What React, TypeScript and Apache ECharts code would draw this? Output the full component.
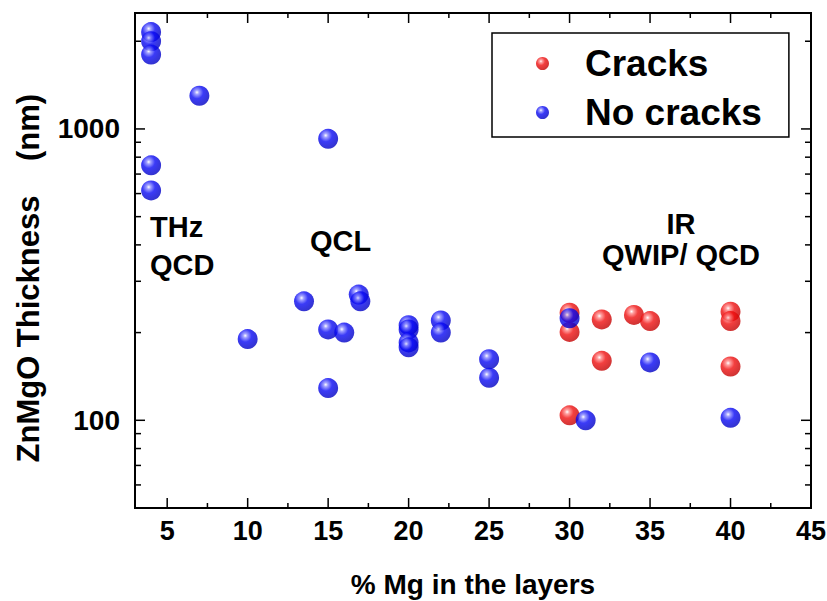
import React, { useEffect, useRef } from "react";
import * as echarts from "echarts";

// ---- data ----
const crackX = [30, 30, 30, 32, 32, 34, 35, 40, 40, 40];
const crackY = [234, 201, 104, 222, 160, 230, 219, 236, 219, 153];

const noCrackX = [4, 4, 4, 7, 4, 4, 10, 13.5, 15, 15, 16, 15, 16.9, 17, 20, 20, 20, 20, 22, 22, 25, 25, 30, 31, 35, 40];
const noCrackY = [2150, 2000, 1800, 1300, 750, 615, 190, 256, 925, 205, 200, 129, 270, 256, 212, 205, 185, 178, 220, 200, 162, 140, 224, 100, 158, 102];

const xTickLabels = [5, 10, 15, 20, 25, 30, 35, 40, 45];
const xMinorTicks = [7.5, 12.5, 17.5, 22.5, 27.5, 32.5, 37.5, 42.5];
const yMajorTicks = [100, 1000];
const yMinorTicks = [60, 70, 80, 90, 200, 300, 400, 500, 600, 700, 800, 900, 2000];

const X_MIN = 3;
const X_MAX = 45;
const Y_MIN = 50;
const Y_MAX = 2500;

const FONT = "'Liberation Sans', Arial, Helvetica, sans-serif";

const sphere = (light: string, mid: string, dark: string) => ({
  type: "radial",
  x: 0.38,
  y: 0.33,
  r: 0.7,
  colorStops: [
    { offset: 0, color: "#ffffff" },
    { offset: 0.15, color: light },
    { offset: 0.45, color: mid },
    { offset: 1, color: dark },
  ],
});

function tickSeries(values: number[], axis: "x" | "y", len: number) {
  return {
    type: "custom",
    silent: true,
    clip: false,
    z: 5,
    data: values.map((v) => (axis === "x" ? [v, Y_MIN] : [X_MIN, v])),
    encode: { x: 0, y: 1 },
    renderItem: (params: any, api: any) => {
      const stroke = { stroke: "#000", lineWidth: 1.5 };
      if (axis === "x") {
        const v = api.value(0);
        const b = api.coord([v, Y_MIN]);
        const t = api.coord([v, Y_MAX]);
        return {
          type: "group",
          children: [
            { type: "line", shape: { x1: b[0], y1: b[1], x2: b[0], y2: b[1] - len }, style: stroke },
            { type: "line", shape: { x1: t[0], y1: t[1], x2: t[0], y2: t[1] + len }, style: stroke },
          ],
        };
      }
      const v = api.value(1);
      const l = api.coord([X_MIN, v]);
      const r = api.coord([X_MAX, v]);
      return {
        type: "group",
        children: [
          { type: "line", shape: { x1: l[0], y1: l[1], x2: l[0] + len, y2: l[1] }, style: stroke },
          { type: "line", shape: { x1: r[0], y1: r[1], x2: r[0] - len, y2: r[1] }, style: stroke },
        ],
      };
    },
  };
}

export default function App() {
  const ref = useRef<HTMLDivElement>(null);

  useEffect(() => {
    if (!ref.current) return;
    const chart = echarts.init(ref.current, null, { renderer: "svg" });
    const labelStyle = { fontSize: 27, fontWeight: "bold", color: "#000", fontFamily: FONT };
    chart.setOption({
      animation: false,
      backgroundColor: "#fff",
      grid: {
        left: 135,
        top: 13,
        right: 16,
        bottom: 93,
        containLabel: false,
        outerBoundsMode: "none",
        show: true,
        borderColor: "#000",
        borderWidth: 2,
        backgroundColor: "transparent",
      },
      legend: {
        data: ["Cracks", "No cracks"],
        orient: "vertical",
        left: 492,
        top: 33,
        padding: [12, 27, 6, 44],
        itemGap: 12,
        itemWidth: 13,
        itemHeight: 13,
        borderColor: "#000",
        borderWidth: 1.5,
        backgroundColor: "#fff",
        textStyle: { fontSize: 37, fontWeight: "bold", color: "#000", fontFamily: FONT, padding: [0, 0, 0, 31] },
      },
      xAxis: {
        type: "value",
        min: X_MIN,
        max: X_MAX,
        axisLine: { show: false },
        axisTick: { show: false },
        splitLine: { show: false },
        axisLabel: { ...labelStyle, margin: 9, customValues: xTickLabels },
        name: "% Mg in the layers",
        nameLocation: "middle",
        nameGap: 62,
        nameTextStyle: { fontSize: 28, fontWeight: "bold", color: "#000", fontFamily: FONT },
      },
      yAxis: {
        type: "log",
        logBase: 10,
        min: Y_MIN,
        max: Y_MAX,
        axisLine: { show: false },
        axisTick: { show: false },
        splitLine: { show: false },
        minorTick: { show: false },
        minorSplitLine: { show: false },
        axisLabel: {
          ...labelStyle,
          fontSize: 28,
          margin: 15,
          showMinLabel: false,
          showMaxLabel: false,
          formatter: (v: number) => String(Math.round(v)),
        },
      },
      graphic: [
        { type: "text", x: 28, y: 329, rotation: Math.PI / 2, style: { text: "ZnMgO Thickness", font: `bold 31px ${FONT}`, fill: "#000", align: "center", verticalAlign: "middle" } },
        { type: "text", x: 28, y: 127.5, rotation: Math.PI / 2, style: { text: "(nm)", font: `bold 31px ${FONT}`, fill: "#000", align: "center", verticalAlign: "middle" } },
        { type: "text", x: 150, y: 226.5, style: { text: "THz", font: `bold 29px ${FONT}`, fill: "#000", align: "left", verticalAlign: "middle" } },
        { type: "text", x: 150, y: 265, style: { text: "QCD", font: `bold 29px ${FONT}`, fill: "#000", align: "left", verticalAlign: "middle" } },
        { type: "text", x: 310, y: 241, style: { text: "QCL", font: `bold 29px ${FONT}`, fill: "#000", align: "left", verticalAlign: "middle" } },
        { type: "text", x: 681, y: 223.5, style: { text: "IR", font: `bold 29px ${FONT}`, fill: "#000", align: "center", verticalAlign: "middle" } },
        { type: "text", x: 681, y: 255, style: { text: "QWIP/ QCD", font: `bold 29px ${FONT}`, fill: "#000", align: "center", verticalAlign: "middle" } },
      ],
      series: [
        tickSeries(xTickLabels, "x", 10),
        tickSeries(xMinorTicks, "x", 5),
        tickSeries(yMajorTicks, "y", 10),
        tickSeries(yMinorTicks, "y", 6),
        {
          name: "Cracks",
          type: "scatter",
          symbol: "circle",
          symbolSize: 20,
          z: 3,
          itemStyle: { color: sphere("#ff8a8a", "#f01010", "#c00000") },
          data: crackX.map((x, i) => [x, crackY[i]]),
        },
        {
          name: "No cracks",
          type: "scatter",
          symbol: "circle",
          symbolSize: 20,
          z: 4,
          itemStyle: { color: sphere("#8a8aff", "#0a0af5", "#0000c0") },
          data: noCrackX.map((x, i) => [x, noCrackY[i]]),
        },
      ],
    });
    return () => chart.dispose();
  }, []);

  return (
    <div
      ref={ref}
      style={{ position: "fixed", left: 0, top: 0, width: 827, height: 601, background: "#fff" }}
    />
  );
}
